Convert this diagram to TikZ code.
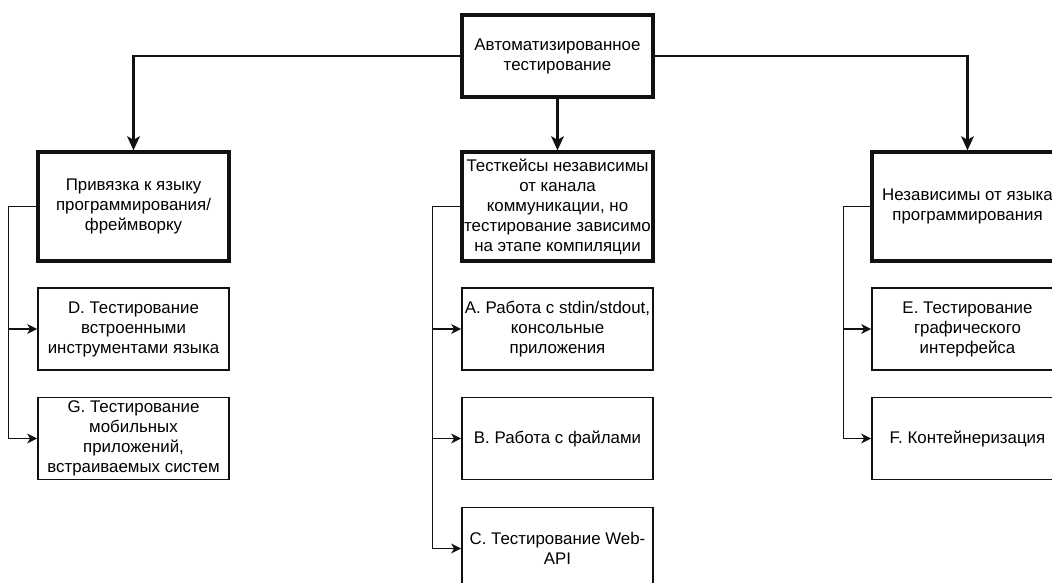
\documentclass[tikz,border=0pt]{standalone}
\usepackage{fontspec}
\setmainfont{Liberation Sans}
\usepackage{tikz}
\usetikzlibrary{arrows.meta}
\definecolor{cizgi}{HTML}{111111}
\tikzset{
  kalinKutu/.style={draw=cizgi,line width=2.3pt,minimum width=191*0.025cm,minimum height=109*0.025cm,inner sep=0pt,align=center,font=\fontsize{12}{14.2}\selectfont},
  inceKutu/.style={draw=cizgi,line width=1.3pt,minimum width=191*0.025cm,minimum height=82*0.025cm,inner sep=0pt,align=center,font=\fontsize{12}{14.2}\selectfont},
  anaOk/.style={draw=cizgi,line width=1.8pt,-{Stealth[length=10pt,width=9pt,inset=2.5pt]}},
  yanOk/.style={draw=cizgi,line width=1pt,-{Stealth[length=7pt,width=7pt,inset=2pt]}}
}

\begin{document}
\begin{tikzpicture}[x=0.025cm,y=-0.025cm]
\useasboundingbox (0,0) rectangle (1052,583);
\clip (0,0) rectangle (1052,583);
% ust kutu
\node[kalinKutu,minimum height=82*0.025cm] (oto) at (557.5,56) {Автоматизированное\\тестирование};
% birinci seviye
\node[kalinKutu] (dil) at (133.5,206.5) {Привязка к языку\\программирования/\\фреймворку};
\node[kalinKutu] (kanal) at (557.5,206.5) {Тесткейсы независимы\\от канала\\коммуникации, но\\тестирование зависимо\\на этапе компиляции};
\node[kalinKutu] (bagimsiz) at (967.5,206.5) {Независимы от языка\\программирования};
% alt kutular
\node[inceKutu] (d) at (133.5,329) {D. Тестирование\\встроенными\\инструментами языка};
\node[inceKutu] (g) at (133.5,438.5) {G. Тестирование\\мобильных\\приложений,\\встраиваемых систем};
\node[inceKutu] (a) at (557.5,329) {A. Работа с stdin/stdout,\\консольные\\приложения};
\node[inceKutu] (b) at (557.5,438.5) {B. Работа с файлами};
\node[inceKutu] (c) at (557.5,548.5) {C. Тестирование Web-\\API};
\node[inceKutu] (e) at (967.5,329) {E. Тестирование\\графического\\интерфейса};
\node[inceKutu] (f) at (967.5,438.5) {F. Контейнеризация};
% oklar
\draw[anaOk] (oto.west) -| (dil.north);
\draw[anaOk] (oto.south) -- (kanal.north);
\draw[anaOk] (oto.east) -| (bagimsiz.north);
\foreach \k in {d,g}
  \draw[yanOk] (dil.west) -- ++(-28,0) |- (\k.west);
\foreach \k in {a,b,c}
  \draw[yanOk] (kanal.west) -- ++(-28,0) |- (\k.west);
\foreach \k in {e,f}
  \draw[yanOk] (bagimsiz.west) -- ++(-27,0) |- (\k.west);
\end{tikzpicture}
\end{document}
